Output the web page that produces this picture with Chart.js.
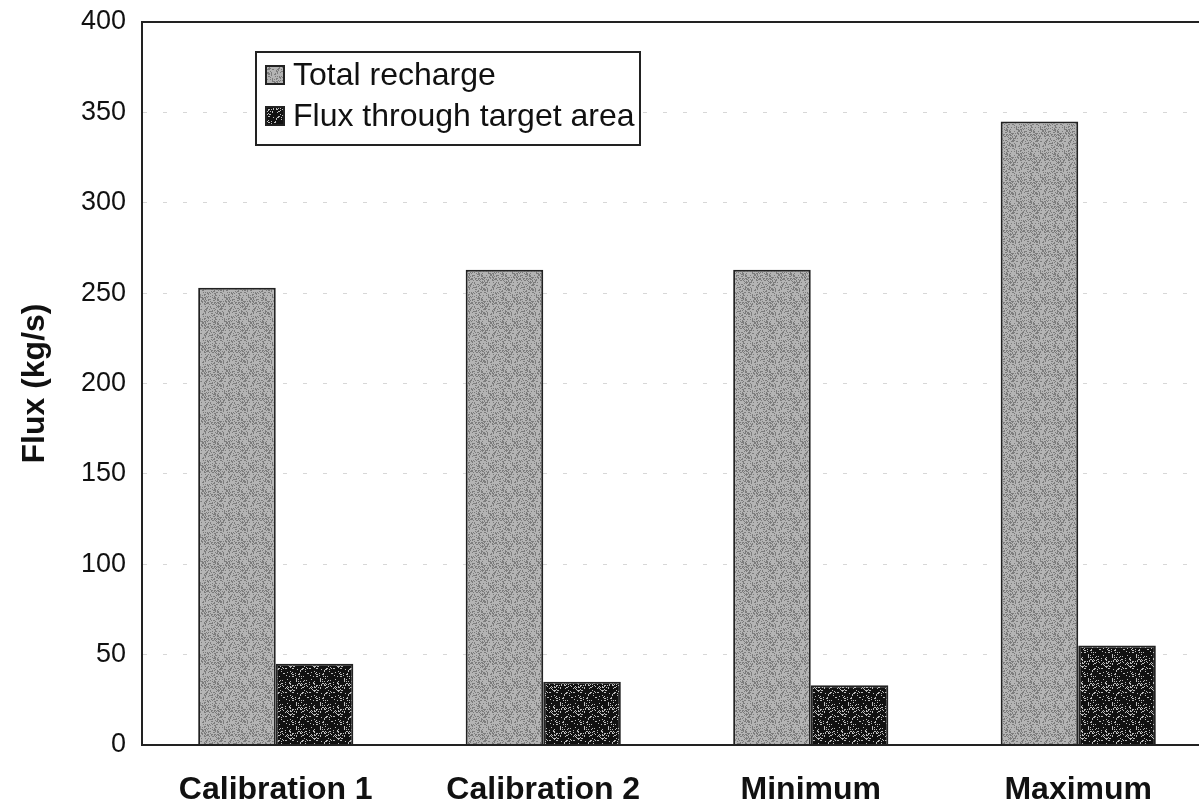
<!DOCTYPE html>
<html>
<head>
<meta charset="utf-8">
<script src="https://cdn.jsdelivr.net/npm/chart.js@4"></script>
<style>
  html, body { margin: 0; padding: 0; background: #fff; overflow: hidden; }
  #wrap { width: 1212px; height: 801px; }
</style>
</head>
<body>
<div id="wrap"><canvas id="chart"></canvas></div>
<script>
let categories = ["Calibration 1", "Calibration 2", "Minimum", "Maximum"];
let totalRecharge = [253, 263, 263, 345];
let targetFlux = [45, 35, 33, 55];
let yTicks = [0, 50, 100, 150, 200, 250, 300, 350, 400];

// speckled fill textures (fixed pseudo noise so every run looks the same)
function speckle(base, dot, density) {
    let c = document.createElement("canvas");
    c.width = 24; c.height = 24;
    let g = c.getContext("2d");
    g.fillStyle = base;
    g.fillRect(0, 0, 24, 24);
    g.fillStyle = dot;
    let s = 7;
    for (let i = 0; i < 24 * 24; i++) {
        s = (s * 1103515245 + 12345) % 2147483648;
        if ((s >> 8) % 100 < density) g.fillRect(i % 24, Math.floor(i / 24), 1, 1);
    }
    return g.createPattern(c, "repeat");
}

let greyFill = speckle("#b4b4b4", "#7c7c7c", 30);
let darkFill = speckle("#111111", "#bdbdbd", 14);

const frame = {
    id: "frame",
    afterDraw(chart) {
        let a = chart.chartArea, ctx = chart.ctx;
        ctx.save();
        ctx.strokeStyle = "#222";
        ctx.lineWidth = 2;
        ctx.strokeRect(a.left, a.top, a.right - a.left + 4, a.bottom - a.top);

        // legend box inside the plot
        let x = 256, y = 52, w = 384, h = 93;
        ctx.fillStyle = "#fff";
        ctx.fillRect(x, y, w, h);
        ctx.strokeRect(x, y, w, h);
        ctx.font = "32px 'Liberation Sans', Arial, sans-serif";
        ctx.textBaseline = "middle";
        chart.data.datasets.forEach((ds, i) => {
            let cy = y + 23 + i * 41;
            ctx.fillStyle = ds.backgroundColor;
            ctx.fillRect(x + 10, cy - 9, 18, 18);
            ctx.lineWidth = 2;
            ctx.strokeStyle = "#222";
            ctx.strokeRect(x + 10, cy - 9, 18, 18);
            ctx.fillStyle = "#111";
            ctx.fillText(ds.label, x + 37, cy + 1);
        });
        ctx.restore();
    }
};

new Chart(document.getElementById("chart"), {
    type: "bar",
    data: {
        labels: categories,
        datasets: [{
            label: "Total recharge",
            data: totalRecharge,
            backgroundColor: greyFill,
            borderColor: "#222",
            borderWidth: 2
        }, {
            label: "Flux through target area",
            data: targetFlux,
            backgroundColor: darkFill,
            borderColor: "#222",
            borderWidth: 2
        }]
    },
    options: {
        responsive: true,
        maintainAspectRatio: false,
        animation: false,
        layout: { padding: { top: 22, right: 0, left: 0, bottom: 0 } },
        datasets: { bar: { categoryPercentage: 0.58, barPercentage: 1 } },
        plugins: { legend: { display: false }, tooltip: { enabled: false } },
        scales: {
            x: {
                grid: { display: false },
                border: { display: true, color: "#222", width: 2 },
                ticks: {
                    color: "#111",
                    padding: 18,
                    font: { family: "'Liberation Sans', Arial, sans-serif", size: 32, weight: "bold" }
                },
                afterFit(scale) {
                    scale.height = 56;
                    scale.paddingLeft = 0;
                    scale.paddingRight = 0;
                }
            },
            y: {
                min: 0,
                max: 400,
                afterBuildTicks(scale) { scale.ticks = yTicks.map(v => ({ value: v })); },
                grid: { color: "rgba(140,140,140,0.35)", drawTicks: false, lineWidth: 1 },
                border: { display: true, color: "#222", width: 2, dash: [4, 16] },
                ticks: {
                    color: "#111",
                    padding: 16,
                    font: { family: "'Liberation Sans', Arial, sans-serif", size: 27 }
                },
                title: {
                    display: true,
                    text: "Flux (kg/s)",
                    color: "#111",
                    padding: { top: 16, bottom: 0 },
                    font: { family: "'Liberation Sans', Arial, sans-serif", size: 32, weight: "bold" }
                },
                afterFit(scale) {
                    scale.width = 142;
                    scale.paddingTop = 0;
                    scale.paddingBottom = 0;
                }
            }
        }
    },
    plugins: [frame]
});
</script>
</body>
</html>
